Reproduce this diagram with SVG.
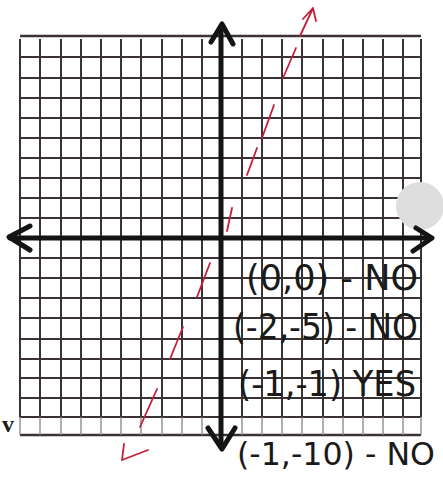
<svg xmlns="http://www.w3.org/2000/svg" width="443" height="477" viewBox="0 0 443 477">
<style>
.grid line{stroke:#3b3333;stroke-width:2}
.faint{stroke:#8a8484;stroke-width:1.3}
.axis{stroke:#141414;stroke-width:5;fill:none;stroke-linecap:round;stroke-linejoin:round}
.red{stroke:#c41e3a;stroke-width:1.8;fill:none;stroke-linecap:round;stroke-linejoin:round}
.hand{font-family:"DejaVu Sans",sans-serif;font-size:36px;fill:#1a1a1a}
</style>
<rect width="443" height="477" fill="#ffffff"/>
<g id="grid" class="grid">
<line x1="20" y1="36" x2="421" y2="36" style="stroke-width:2.5"/>
<line x1="20" y1="57" x2="421" y2="57"/>
<line x1="20" y1="78" x2="421" y2="78"/>
<line x1="20" y1="98" x2="421" y2="98"/>
<line x1="20" y1="118" x2="421" y2="118"/>
<line x1="20" y1="138" x2="421" y2="138"/>
<line x1="20" y1="158" x2="421" y2="158"/>
<line x1="20" y1="178" x2="421" y2="178"/>
<line x1="20" y1="198" x2="421" y2="198"/>
<line x1="20" y1="218" x2="421" y2="218"/>
<line x1="20" y1="258" x2="421" y2="258"/>
<line x1="20" y1="278" x2="421" y2="278"/>
<line x1="20" y1="298" x2="421" y2="298"/>
<line x1="20" y1="318" x2="421" y2="318"/>
<line x1="20" y1="339" x2="421" y2="339"/>
<line x1="20" y1="359" x2="421" y2="359"/>
<line x1="20" y1="378" x2="421" y2="378"/>
<line x1="20" y1="398" x2="421" y2="398"/>
<line x1="20" y1="417" x2="421" y2="417"/>
<line x1="20" y1="435" x2="421" y2="435" style="stroke-width:2.5"/>
<line x1="20" y1="39" x2="20" y2="417"/>
<line x1="40" y1="39" x2="40" y2="417"/>
<line x1="61" y1="39" x2="61" y2="417"/>
<line x1="81" y1="39" x2="81" y2="417"/>
<line x1="101" y1="39" x2="101" y2="417"/>
<line x1="121" y1="39" x2="121" y2="417"/>
<line x1="141" y1="39" x2="141" y2="417"/>
<line x1="162" y1="39" x2="162" y2="417"/>
<line x1="182" y1="39" x2="182" y2="417"/>
<line x1="202" y1="39" x2="202" y2="417"/>
<line x1="242" y1="39" x2="242" y2="417"/>
<line x1="262" y1="39" x2="262" y2="417"/>
<line x1="282" y1="39" x2="282" y2="417"/>
<line x1="302" y1="39" x2="302" y2="417"/>
<line x1="323" y1="39" x2="323" y2="417"/>
<line x1="343" y1="39" x2="343" y2="417"/>
<line x1="363" y1="39" x2="363" y2="417"/>
<line x1="383" y1="39" x2="383" y2="417"/>
<line x1="403" y1="39" x2="403" y2="417"/>
<line x1="421" y1="39" x2="421" y2="417"/>
</g>
<g id="grid-bottom-row" class="faint">
<line x1="20" y1="417" x2="20" y2="435"/>
<line x1="40" y1="417" x2="40" y2="435"/>
<line x1="61" y1="417" x2="61" y2="435"/>
<line x1="81" y1="417" x2="81" y2="435"/>
<line x1="101" y1="417" x2="101" y2="435"/>
<line x1="121" y1="417" x2="121" y2="435"/>
<line x1="141" y1="417" x2="141" y2="435"/>
<line x1="162" y1="417" x2="162" y2="435"/>
<line x1="182" y1="417" x2="182" y2="435"/>
<line x1="202" y1="417" x2="202" y2="435"/>
<line x1="242" y1="417" x2="242" y2="435"/>
<line x1="262" y1="417" x2="262" y2="435"/>
<line x1="282" y1="417" x2="282" y2="435"/>
<line x1="302" y1="417" x2="302" y2="435"/>
<line x1="323" y1="417" x2="323" y2="435"/>
<line x1="343" y1="417" x2="343" y2="435"/>
<line x1="363" y1="417" x2="363" y2="435"/>
<line x1="383" y1="417" x2="383" y2="435"/>
<line x1="403" y1="417" x2="403" y2="435"/>
<line x1="421" y1="417" x2="421" y2="435"/>
</g>
<circle id="tape-dot" cx="420" cy="206" r="24" fill="#dedede"/>
<g id="axes" class="axis">
<line x1="221" y1="26" x2="221" y2="447"/>
<line x1="10" y1="238" x2="431" y2="238"/>
<polyline points="211,42 222,24 233,44"/>
<polyline points="208,428 222,449 235,428"/>
<polyline points="30,226 9,237 30,250"/>
<polyline points="416,228 432,238 413,251"/>
</g>
<g id="red-line" class="red">
<path d="M300,36 L313,8 M303,19 L313,8 L316,21"/>
<path d="M296,48 L283,78 M274,105 L262,138 M257,148 L247,175 M232,208 L227,231 M210,263 L197,297 M183,327 L170,359 M157,389 L140,427"/>
<path d="M124,444 L122,460 L148,450"/>
</g>
<text x="2" y="432" font-family="Liberation Serif, serif" font-weight="bold" font-size="24" fill="#1a1a1a">v</text>
<g id="notes">
<text class="hand" x="246" y="290" textLength="172" lengthAdjust="spacingAndGlyphs">(0,0) - NO</text>
<text class="hand" x="233" y="339" textLength="185" lengthAdjust="spacingAndGlyphs">(-2,-5) - NO</text>
<text class="hand" x="238" y="396" textLength="178" lengthAdjust="spacingAndGlyphs">(-1,-1) YES</text>
<text class="hand" x="237" y="465" textLength="198" lengthAdjust="spacingAndGlyphs" style="font-size:32px">(-1,-10) - NO</text>
</g>
</svg>
